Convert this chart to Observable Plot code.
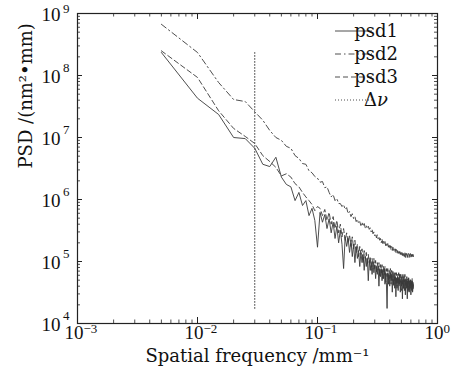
<!DOCTYPE html>
<html>
<head>
<meta charset="utf-8">
<script src="https://cdn.jsdelivr.net/npm/d3@7"></script>
<script src="https://cdn.jsdelivr.net/npm/@observablehq/plot@0.6"></script>
<style>
  html, body { margin: 0; padding: 0; background: #fff; }
  #chart svg { display: block; font-family: "DejaVu Serif", serif; }
</style>
</head>
<body>
<div id="chart"></div>
<script>
// ---- data ----
const seriesNames = ["psd1", "psd2", "psd3"];
const deltaNuLabel = "Δν";
const deltaNu = [0.03]; // mm^-1
const df = 0.005; // frequency sampling step (mm^-1)

const psd1 = [
  2.35e8, 4.3e7, 2.35e7, 1.0e7, 9.6e6, 6.7e6, 3.7e6, 3.4e6, 4.8e6, 2.3e6,
  1.75e6, 1.6e6, 9.6e5, 1.3e6, 8.0e5, 9.6e5, 5.5e5, 7.2e5, 4.6e5, 1.7e5,
  6.2e5, 4.3e5, 5.7e5, 3.4e5, 4.9e5, 2.9e5, 4.3e5, 2.35e5, 3.7e5, 2.0e5,
  3.2e5, 1.9e5, 7.7e4, 2.5e5, 1.75e5, 2.35e5, 1.4e5, 2.2e5, 1.2e5, 1.9e5,
  9.6e4, 1.75e5, 1.12e5, 1.5e5, 8.3e4, 1.4e5, 9.6e4, 1.3e5, 7.2e4, 1.2e5,
  8.3e4, 1.12e5, 4.9e4, 1.04e5, 7.2e4, 9.6e4, 6.2e4, 9.6e4, 6.6e4, 8.9e4,
  5.3e4, 8.3e4, 6.2e4, 8.3e4, 4.0e4, 7.7e4, 5.7e4, 7.7e4, 4.9e4, 7.2e4,
  5.3e4, 7.7e4, 4.3e4, 6.6e4, 4.6e4, 1.75e4, 6.6e4, 4.3e4, 6.2e4, 4.0e4,
  6.6e4, 4.9e4, 6.2e4, 3.2e4, 5.7e4, 4.3e4, 6.2e4, 3.7e4, 5.7e4, 2.7e4,
  5.3e4, 4.0e4, 5.7e4, 3.4e4, 5.3e4, 4.3e4, 6.2e4, 3.2e4, 4.9e4, 4.0e4,
  5.7e4, 2.5e4, 4.9e4, 3.7e4, 5.7e4, 3.4e4, 4.6e4, 2.9e4, 5.3e4, 3.7e4,
  4.9e4, 2.5e4, 4.9e4, 3.4e4, 5.3e4, 3.2e4, 4.6e4, 3.7e4, 4.9e4, 2.9e4,
  4.6e4, 3.4e4, 4.9e4, 3.2e4, 4.3e4, 3.7e4
];
const psd2 = [
  6.7e8, 2.35e8, 7.7e7, 4.1e7, 3.8e7, 2.6e7, 1.9e7, 1.3e7, 1.0e7, 9.0e6,
  7.2e6, 6.7e6, 5.1e6, 4.6e6, 3.8e6, 3.7e6, 2.9e6, 2.7e6, 2.35e6, 2.2e6,
  1.9e6, 1.95e6, 1.55e6, 1.6e6, 1.3e6, 1.1e6, 1.2e6, 9.6e5, 1.04e6, 8.6e5,
  8.6e5, 7.7e5, 8.3e5, 6.9e5, 7.4e5, 5.9e5, 6.4e5, 5.3e5, 5.9e5, 4.9e5,
  5.3e5, 4.4e5, 4.8e5, 4.1e5, 4.4e5, 3.8e5, 4.3e5, 3.7e5, 4.1e5, 3.5e5,
  3.8e5, 3.4e5, 3.7e5, 3.3e5, 3.5e5, 3.0e5, 3.3e5, 2.8e5, 3.0e5, 2.6e5,
  2.8e5, 2.4e5, 2.7e5, 2.3e5, 2.5e5, 2.2e5, 2.35e5, 2.0e5, 2.3e5, 1.95e5,
  2.2e5, 1.9e5, 2.1e5, 1.8e5, 2.0e5, 1.75e5, 1.95e5, 1.7e5, 1.9e5, 1.6e5,
  1.8e5, 1.56e5, 1.75e5, 1.5e5, 1.7e5, 1.45e5, 1.6e5, 1.45e5, 1.6e5, 1.4e5,
  1.56e5, 1.35e5, 1.5e5, 1.35e5, 1.5e5, 1.3e5, 1.45e5, 1.3e5, 1.45e5, 1.25e5,
  1.4e5, 1.25e5, 1.4e5, 1.2e5, 1.35e5, 1.2e5, 1.4e5, 1.16e5, 1.35e5, 1.2e5,
  1.35e5, 1.16e5, 1.3e5, 1.2e5, 1.35e5, 1.16e5, 1.3e5, 1.2e5, 1.35e5, 1.16e5,
  1.3e5, 1.2e5, 1.35e5, 1.16e5, 1.3e5, 1.2e5
];
const psd3 = [
  2.5e8, 9.3e7, 2.7e7, 1.4e7, 1.04e7, 8.0e6, 5.1e6, 4.1e6, 3.3e6, 2.4e6,
  2.6e6, 2.3e6, 1.8e6, 1.6e6, 1.3e6, 1.1e6, 9.6e5, 8.3e5, 6.6e5, 7.7e5,
  7.2e5, 5.5e5, 6.9e5, 4.6e5, 6.2e5, 4.0e5, 5.3e5, 3.4e5, 4.6e5, 2.9e5,
  4.0e5, 2.5e5, 3.4e5, 2.2e5, 2.9e5, 2.0e5, 2.7e5, 1.75e5, 2.5e5, 1.6e5,
  2.2e5, 1.4e5, 1.9e5, 1.2e5, 1.75e5, 1.3e5, 1.6e5, 9.6e4, 1.5e5, 1.12e5,
  1.4e5, 8.9e4, 1.3e5, 9.6e4, 1.2e5, 7.2e4, 1.12e5, 8.3e4, 1.12e5, 7.7e4,
  1.04e5, 6.6e4, 9.6e4, 7.2e4, 9.6e4, 5.7e4, 8.9e4, 6.6e4, 8.9e4, 5.3e4,
  8.3e4, 6.2e4, 8.3e4, 4.6e4, 7.7e4, 5.7e4, 7.7e4, 4.9e4, 7.2e4, 5.3e4,
  7.7e4, 4.3e4, 7.2e4, 4.9e4, 7.2e4, 4.0e4, 6.6e4, 4.9e4, 6.6e4, 4.3e4,
  6.6e4, 3.7e4, 6.2e4, 4.6e4, 6.6e4, 4.0e4, 6.2e4, 4.6e4, 6.2e4, 3.4e4,
  5.7e4, 4.3e4, 6.2e4, 3.7e4, 5.7e4, 4.6e4, 6.2e4, 3.4e4, 5.3e4, 4.3e4,
  5.7e4, 3.7e4, 5.3e4, 4.3e4, 5.7e4, 3.2e4, 4.9e4, 4.0e4, 5.3e4, 3.7e4,
  4.9e4, 4.0e4, 5.3e4, 3.4e4, 4.6e4, 4.0e4
];
// sampling frequencies k * df, k = 1..N
const freq = psd1.map((_, i) => +((i + 1) * df).toFixed(3));

const xMajor = [1e-3, 1e-2, 1e-1, 1e0];
const xMajorExp = ["−3", "−2", "−1", "0"];
const yMajor = [1e4, 1e5, 1e6, 1e7, 1e8, 1e9];
const yMajorExp = ["4", "5", "6", "7", "8", "9"];
const xTitle = "Spatial frequency /mm⁻¹";
const yTitle = "PSD /(nm²•mm)";

// ---- layout ----
const W = 464, H = 374;
const mL = 77, mR = 27, mT = 13, mB = 51;
const innerW = W - mL - mR, innerH = H - mT - mB;
const ink = "#222";
const lineInk = "#3a3a3a";
const numFont = "Liberation Serif, serif";

const xMinor = [];
for (const d of [1e-3, 1e-2, 1e-1]) for (let m = 2; m <= 9; m++) xMinor.push(+(m * d).toPrecision(3));
const yMinor = [];
for (const d of [1e4, 1e5, 1e6, 1e7, 1e8]) for (let m = 2; m <= 9; m++) yMinor.push(m * d);

const styles = {
  psd1: null,
  psd2: "6,3,1.5,3",
  psd3: "5,3"
};
const seriesData = {psd1, psd2, psd3};
const rowsOf = name => seriesData[name].map((v, i) => ({f: freq[i], v}));

const dnRows = deltaNu.flatMap(f => [{f, v: d3.min(psd1)}, {f, v: d3.max(psd1)}]);

const yExpRows = yMajor.map((v, i) => ({v, t: yMajorExp[i]}));
const yExpTop = yExpRows.slice(-1);
const yExpRest = yExpRows.slice(0, -1);

const fs = 18;
const plot = Plot.plot({
  width: W, height: H,
  marginLeft: mL, marginRight: mR, marginTop: mT, marginBottom: mB,
  x: {type: "log", domain: [1e-3, 1], axis: null},
  y: {type: "log", domain: [1e4, 1e9], axis: null},
  style: {background: "#fff", color: ink},
  marks: [
    ...seriesNames.map(n => Plot.line(rowsOf(n), {
      x: "f", y: "v", stroke: lineInk, strokeWidth: 0.9,
      strokeDasharray: styles[n] ?? undefined
    })),
    Plot.line(dnRows, {x: "f", y: "v", stroke: lineInk, strokeWidth: 0.9, strokeDasharray: "1,2"}),
    // inward ticks: bottom / top
    Plot.ruleX(xMajor, {insetTop: innerH - 6, stroke: ink, strokeWidth: 1}),
    Plot.ruleX(xMinor, {insetTop: innerH - 3.5, stroke: ink, strokeWidth: 0.8}),
    Plot.ruleX(xMajor, {insetBottom: innerH - 6, stroke: ink, strokeWidth: 1}),
    Plot.ruleX(xMinor, {insetBottom: innerH - 3.5, stroke: ink, strokeWidth: 0.8}),
    // inward ticks: left / right
    Plot.ruleY(yMajor, {insetRight: innerW - 5, stroke: ink, strokeWidth: 1}),
    Plot.ruleY(yMinor, {insetRight: innerW - 3, stroke: ink, strokeWidth: 0.8}),
    Plot.ruleY(yMajor, {insetLeft: innerW - 5, stroke: ink, strokeWidth: 1}),
    Plot.ruleY(yMinor, {insetLeft: innerW - 3, stroke: ink, strokeWidth: 0.8}),
    Plot.frame({stroke: ink, strokeWidth: 1.2}),
    // x tick labels
    Plot.text(xMajor, {x: d => d, frameAnchor: "bottom", text: () => "10", textAnchor: "end", dx: 6, dy: 15, fontSize: 19, fontFamily: numFont, fill: "#111"}),
    Plot.text(xMajor, {x: d => d, frameAnchor: "bottom", text: (d, i) => xMajorExp[i], textAnchor: "start", dx: 6, dy: 9, fontSize: 13, fontFamily: numFont, fill: "#111"}),
    // y tick labels
    Plot.text(yMajor, {y: d => d, frameAnchor: "left", text: () => "10", textAnchor: "end", dx: -17, dy: 1, fontSize: 19, fontFamily: numFont, fill: "#111"}),
    Plot.text(yExpRest, {y: "v", frameAnchor: "left", text: "t", textAnchor: "end", dx: -8, dy: -8, fontSize: 13, fontFamily: numFont, fill: "#111"}),
    Plot.text(yExpTop, {y: "v", frameAnchor: "left", text: "t", textAnchor: "end", dx: -8, dy: -5, fontSize: 13, fontFamily: numFont, fill: "#111"}),
    // axis titles
    Plot.text([xTitle], {frameAnchor: "bottom", dy: 38, fontSize: fs, fill: "#111"}),
    Plot.text([yTitle], {frameAnchor: "left", dx: -51, rotate: -90, fontSize: fs, fill: "#111"})
  ]
});

// ---- legend (upper right, inside frame) ----
const svg = d3.select(plot);
const legendItems = [
  {label: "psd1", dash: null},
  {label: "psd2", dash: styles.psd2},
  {label: "psd3", dash: styles.psd3},
  {label: deltaNuLabel, dash: "1,2"}
];
const lg = svg.append("g").attr("transform", `translate(${mL + innerW - 102},${mT + 18})`);
legendItems.forEach((it, i) => {
  const y = i * 23;
  lg.append("line").attr("x1", 0).attr("x2", 37).attr("y1", y).attr("y2", y)
    .attr("stroke", lineInk).attr("stroke-width", 0.9)
    .attr("stroke-dasharray", it.dash);
  const t = lg.append("text").attr("x", 41).attr("y", y).attr("dy", "0.32em")
    .attr("font-size", fs).attr("fill", "#111");
  if (it.label === deltaNuLabel) {
    t.append("tspan").text("Δ");
    t.append("tspan").attr("font-style", "italic").text("ν");
  } else {
    t.text(it.label);
  }
});

document.getElementById("chart").appendChild(plot);
</script>
</body>
</html>
